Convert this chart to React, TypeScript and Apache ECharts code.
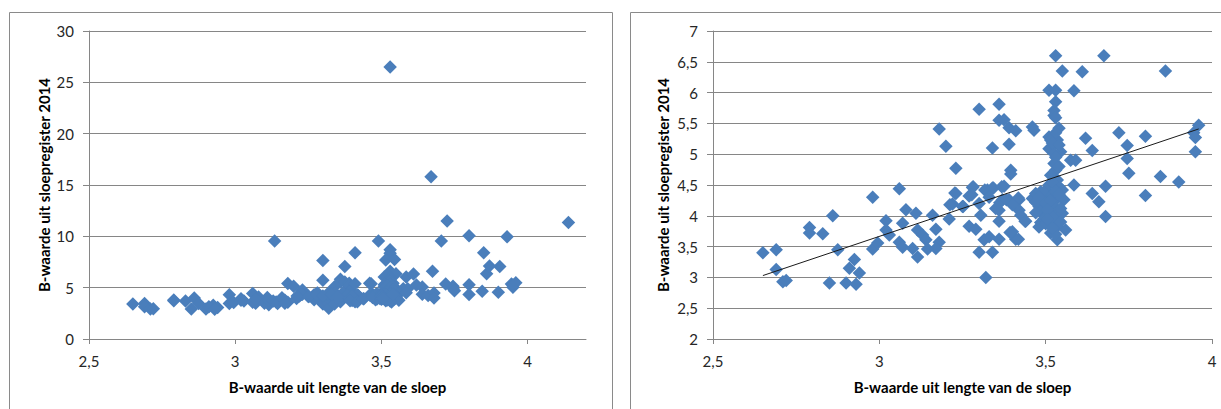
import { useEffect, useRef } from 'react';
import * as echarts from 'echarts';

// Tick values of both x axes
const xTicks = [2.5, 3, 3.5, 4];

// Points shown in both charts: [B-waarde uit lengte, B-waarde sloepregister 2014]
const points: [number, number][] = [
  [2.65, 3.4], [2.69, 3.45], [2.69, 3.13], [2.71, 2.93], [2.72, 2.95],
  [2.79, 3.81], [2.79, 3.72], [2.83, 3.71], [2.86, 4.0], [2.875, 3.45], [2.85, 2.91],
  [2.9, 2.91], [2.925, 3.29], [2.91, 3.15], [2.94, 3.07], [2.93, 2.89],
  [2.98, 4.3], [2.98, 3.46], [2.995, 3.56], [3.02, 3.92], [3.02, 3.77], [3.03, 3.69],
  [3.06, 4.44], [3.06, 3.57], [3.07, 3.49], [3.08, 4.1], [3.07, 3.88], [3.11, 4.04],
  [3.1, 3.47], [3.115, 3.33], [3.115, 3.77], [3.13, 3.69], [3.14, 3.61], [3.145, 3.46],
  [3.16, 4.01], [3.17, 3.78], [3.18, 3.57], [3.17, 3.47], [3.18, 5.41], [3.2, 5.13],
  [3.21, 3.95], [3.23, 4.77], [3.23, 4.36], [3.22, 4.19], [3.28, 4.46], [3.27, 4.32],
  [3.25, 4.15], [3.27, 3.83], [3.29, 3.78], [3.3, 5.73], [3.305, 4.01], [3.3, 3.41],
  [3.315, 3.61], [3.32, 3.0], [3.33, 3.66], [3.34, 5.1], [3.325, 4.42], [3.34, 4.45],
  [3.34, 3.41], [3.36, 5.81], [3.36, 5.55], [3.375, 5.56], [3.36, 3.91], [3.36, 3.62],
  [3.36, 4.09], [3.375, 4.48], [3.37, 4.26], [3.39, 5.43], [3.39, 5.16], [3.395, 4.74],
  [3.395, 4.68], [3.39, 4.26], [3.4, 3.74], [3.41, 5.38], [3.42, 4.26], [3.41, 3.62],
  [3.42, 4.09], [3.425, 4.01], [3.44, 3.91], [3.46, 5.44], [3.465, 5.39], [3.46, 4.28],
  [3.47, 4.36], [3.48, 4.15], [3.485, 3.89], [3.49, 4.04], [3.49, 4.31], [3.485, 4.39],
  [3.282, 4.47], [3.317, 4.42], [3.343, 4.45], [3.368, 4.47], [3.227, 4.37], [3.212, 4.18],
  [3.252, 4.15], [3.278, 4.34], [3.362, 4.21], [3.382, 4.26], [3.418, 4.29], [3.3, 4.2],
  [3.33, 4.3], [3.35, 4.12], [3.4, 4.18], [3.393, 3.73], [3.418, 3.62], [3.438, 3.91],
  [3.47, 4.22], [3.48, 4.3], [3.49, 4.1], [3.495, 3.95], [3.48, 3.82], [3.5, 4.42], [3.47, 4.05],
  [3.53, 6.6], [3.55, 6.35], [3.51, 6.04], [3.53, 6.04], [3.53, 5.85], [3.525, 5.71],
  [3.525, 5.63], [3.53, 5.59], [3.54, 5.42], [3.51, 5.28], [3.515, 5.23], [3.535, 5.23],
  [3.52, 5.12], [3.51, 5.09], [3.545, 5.04], [3.525, 5.01], [3.525, 4.85], [3.53, 4.74],
  [3.515, 4.66], [3.535, 4.58], [3.51, 4.5], [3.54, 4.47], [3.55, 4.42], [3.52, 4.34],
  [3.535, 4.28], [3.555, 4.26], [3.5, 4.2], [3.525, 4.15], [3.51, 4.04], [3.54, 4.04],
  [3.55, 4.04], [3.525, 3.93], [3.5, 3.87], [3.535, 3.83], [3.515, 3.72], [3.535, 3.61],
  [3.56, 3.77], [3.53, 5.35], [3.52, 5.18], [3.54, 5.15], [3.53, 4.95], [3.54, 4.8],
  [3.52, 4.55], [3.53, 4.4], [3.515, 4.25], [3.545, 4.12], [3.52, 3.98], [3.545, 3.9],
  [3.53, 3.7], [3.52, 3.8], [3.505, 4.1], [3.54, 4.35], [3.505, 3.95],
  [3.585, 6.03], [3.61, 6.34], [3.575, 4.9], [3.59, 4.9], [3.585, 4.5], [3.62, 5.26],
  [3.64, 5.06], [3.64, 4.36], [3.66, 4.23], [3.675, 6.6], [3.68, 4.48], [3.68, 3.99],
  [3.72, 5.35], [3.745, 5.14], [3.745, 4.93], [3.75, 4.69], [3.8, 5.29], [3.8, 4.33],
  [3.845, 4.64], [3.86, 6.35], [3.9, 4.55], [3.945, 5.35], [3.95, 5.04], [3.95, 5.27],
  [3.96, 5.47],
];

// Points only visible in the left chart (outside the right chart's range)
const outliers: [number, number][] = [
  [3.53, 26.5], [3.67, 15.8], [3.725, 11.5], [4.14, 11.35], [3.8, 10.05], [3.93, 9.95],
  [3.135, 9.55], [3.49, 9.55], [3.705, 9.55], [3.53, 8.7], [3.53, 8.35], [3.41, 8.4],
  [3.85, 8.4], [3.3, 7.65], [3.515, 7.7], [3.545, 7.75], [3.375, 7.05], [3.905, 7.05],
  [3.87, 7.1],
];

// Linear trendline of the right chart (end points)
const trendX = [2.65, 3.96];
const trendY = [3.03, 5.41];

const xTitle = 'B-waarde uit lengte van de sloep';
const yTitle = 'B-waarde uit sloepregister 2014';

export default function App() {
  const ref = useRef<HTMLDivElement>(null);
  useEffect(() => {
    const chart = echarts.init(ref.current!, null, { renderer: 'svg' });
    const fmt = (v: number) => String(v).replace('.', ',');
    const font = 'Lato, "Liberation Sans", sans-serif';
    const line = { color: '#868686', width: 1 };
    const label = { color: '#262626', fontSize: 15, fontFamily: font };
    const nameStyle = { color: '#000', fontSize: 15, fontWeight: 'bold' as const, fontFamily: font };
    const xAxisBase = (grid: number, max: number) => ({
      type: 'value', gridIndex: grid, min: 2.5, max, interval: 0.5,
      axisLine: { show: true, onZero: false, lineStyle: line },
      axisTick: { show: true, length: 5, customValues: xTicks, lineStyle: line },
      axisLabel: { customValues: xTicks, formatter: fmt, margin: 14, ...label },
      splitLine: { show: false },
      name: xTitle, nameLocation: 'middle', nameGap: 40, nameTextStyle: nameStyle,
    });
    const yAxisBase = (grid: number, min: number, max: number, interval: number, gap: number) => ({
      type: 'value', gridIndex: grid, min, max, interval,
      axisLine: { show: true, lineStyle: line },
      axisTick: { show: true, length: 6, lineStyle: line },
      axisLabel: { formatter: fmt, margin: 15, ...label },
      splitLine: { show: true, lineStyle: line },
      name: yTitle, nameLocation: 'middle', nameGap: gap, nameTextStyle: nameStyle,
    });
    const inRight = points.filter(([x, y]) => x <= 4 && y >= 2 && y <= 7);
    const marker = { symbol: 'diamond', symbolSize: 13.5, itemStyle: { color: '#4a7ebb', opacity: 1 } };
    chart.setOption({
      animation: false,
      backgroundColor: '#fff',
      grid: [
        { left: 89, top: 31, width: 497, height: 308 },
        { left: 713, top: 31, width: 499, height: 308 },
      ],
      xAxis: [xAxisBase(0, 4.2), xAxisBase(1, 4)],
      yAxis: [yAxisBase(0, 0, 30, 5, 38), yAxisBase(1, 2, 7, 0.5, 43)],
      graphic: [
        { type: 'rect', silent: true, shape: { x: 9.5, y: 12.5, width: 603, height: 420 }, style: { fill: 'none', stroke: '#8a8a8a', lineWidth: 1 } },
        { type: 'rect', silent: true, shape: { x: 630.5, y: 12.5, width: 620, height: 420 }, style: { fill: 'none', stroke: '#8a8a8a', lineWidth: 1 } },
      ],
      series: [
        { type: 'scatter', xAxisIndex: 0, yAxisIndex: 0, data: [...points, ...outliers], ...marker },
        { type: 'scatter', xAxisIndex: 1, yAxisIndex: 1, data: inRight, ...marker },
        {
          type: 'line', xAxisIndex: 1, yAxisIndex: 1, z: 5,
          data: trendX.map((x, i) => [x, trendY[i]]),
          symbol: 'none', lineStyle: { color: '#1a1a1a', width: 1 },
        },
      ],
    });
    return () => chart.dispose();
  }, []);
  return <div ref={ref} style={{ position: 'fixed', left: 0, top: 0, width: 1221, height: 409, background: '#fff' }} />;
}
